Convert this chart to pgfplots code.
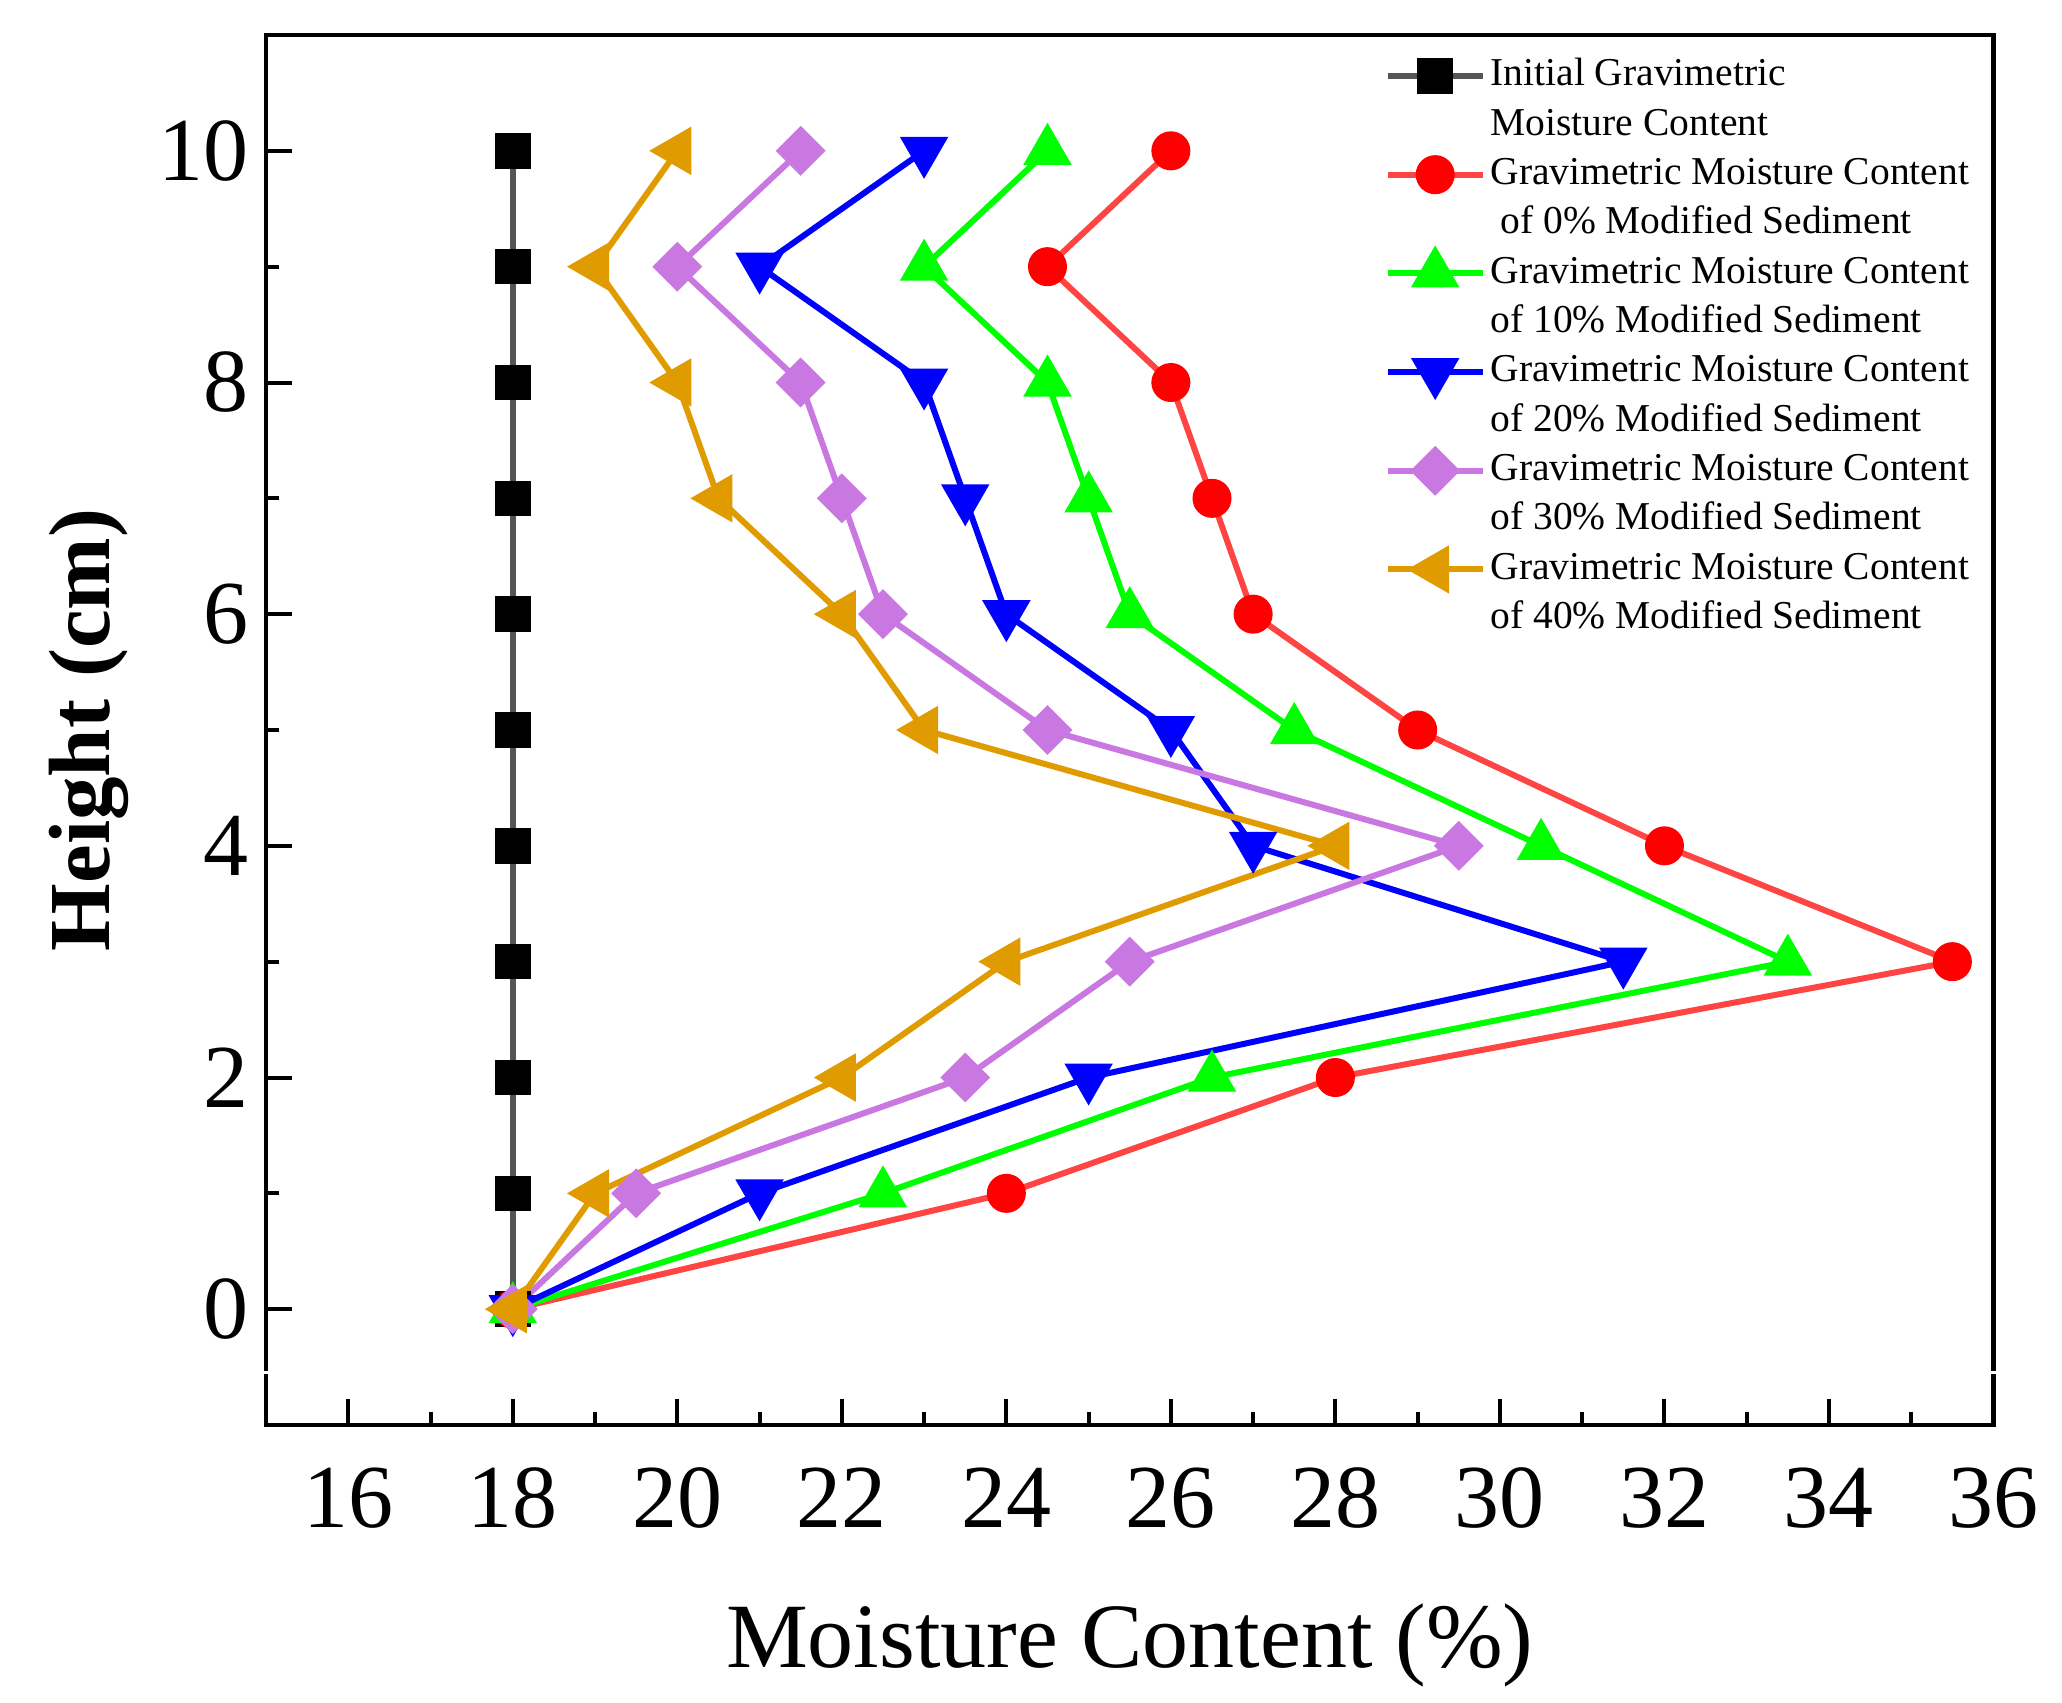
\documentclass[border=0pt]{standalone}
\usepackage{fontspec}
\setmainfont{Liberation Serif}
\usepackage{pgfplots}
\pgfplotsset{compat=1.18}
\definecolor{cred}{HTML}{FF0000}
\definecolor{credl}{HTML}{FF4444}
\definecolor{cgreen}{HTML}{00FF00}
\definecolor{cblue}{HTML}{0000FF}
\definecolor{cpurple}{HTML}{C878E0}
\definecolor{corange}{HTML}{E09B00}
\definecolor{cgrey}{HTML}{555555}
\newcommand{\second}[1]{\addlegendimage{empty legend}\addlegendentry{#1}}
\begin{document}
\begin{tikzpicture}
\begin{axis}[
  scale only axis, width=345.5pt, height=278pt,
  at={(0,0)}, anchor=south west,
  xmin=15, xmax=36, ymin=-1, ymax=11,
  xtick={16,18,...,36}, ytick={0,2,...,10},
  minor xtick={17,19,...,35}, minor ytick={1,3,...,9},
  tick pos=left, tick align=inside,
  major tick length=5.3pt, minor tick length=2.6pt,
  every tick/.style={black, line width=0.8pt},
  axis line style={line width=0.9pt},
  /pgf/number format/assume math mode=true,
  ticklabel style={font=\fontsize{18}{18}\selectfont},
  xticklabel style={yshift=-5pt},
  xlabel={Moisture Content (\%)},
  ylabel={\textbf{Height (cm)}},
  xlabel style={at={(axis description cs:0.5,-0.1748)}, anchor=base, font=\fontsize{18.4}{20}\selectfont},
  ylabel style={at={(axis description cs:-0.0908,0.5)}, anchor=base, rotate=0, font=\fontsize{17.4}{20}\selectfont},
  legend image code/.code={\draw[mark repeat=2,mark phase=2,#1] plot coordinates {(0pt,0pt) (9.5pt,0pt) (19pt,0pt)};},
  legend style={draw=none, fill=none, at={(axis description cs:0.647,0.989)}, anchor=north west,
    row sep=0pt, inner sep=0pt, column sep=1.0pt, font=\fontsize{7.9}{9.87}\selectfont,
    nodes={inner sep=0pt, text height=6.9pt, text depth=2.97pt}},
  legend cell align=left,
]
\addplot[color=cgrey, line width=1.1pt, mark=square*, mark size=3pt, mark options={fill=black, draw=black, solid}]
 coordinates {(18,0) (18,1) (18,2) (18,3) (18,4) (18,5) (18,6) (18,7) (18,8) (18,9) (18,10)};
\addlegendentry{Initial Gravimetric}
\second{Moisture Content}
\addplot[color=credl, line width=1.2pt, mark=*, mark size=3.3pt, mark options={fill=cred, draw=cred, solid}]
 coordinates {(18,0) (24,1) (28,2) (35.5,3) (32,4) (29,5) (27,6) (26.5,7) (26,8) (24.5,9) (26,10)};
\addlegendentry{Gravimetric Moisture Content}
\second{\hspace*{0.25em}of 0\% Modified Sediment}
\addplot[color=cgreen, line width=1.2pt, mark=triangle*, mark size=4.4pt, mark options={fill=cgreen, draw=cgreen, solid}]
 coordinates {(18,0) (22.5,1) (26.5,2) (33.5,3) (30.5,4) (27.5,5) (25.5,6) (25,7) (24.5,8) (23,9) (24.5,10)};
\addlegendentry{Gravimetric Moisture Content}
\second{of 10\% Modified Sediment}
\addplot[color=cblue, line width=1.2pt, mark=triangle*, mark size=4.4pt, mark options={fill=cblue, draw=cblue, solid, rotate=180}]
 coordinates {(18,0) (21,1) (25,2) (31.5,3) (27,4) (26,5) (24,6) (23.5,7) (23,8) (21,9) (23,10)};
\addlegendentry{Gravimetric Moisture Content}
\second{of 20\% Modified Sediment}
\addplot[color=cpurple, line width=1.2pt, mark=square*, mark size=2.93pt, mark options={fill=cpurple, draw=cpurple, solid, rotate=45}]
 coordinates {(18,0) (19.5,1) (23.5,2) (25.5,3) (29.5,4) (24.5,5) (22.5,6) (22,7) (21.5,8) (20,9) (21.5,10)};
\addlegendentry{Gravimetric Moisture Content}
\second{of 30\% Modified Sediment}
\addplot[color=corange, line width=1.2pt, mark=triangle*, mark size=4.4pt, mark options={fill=corange, draw=corange, solid, rotate=90}]
 coordinates {(18,0) (19,1) (22,2) (24,3) (28,4) (23,5) (22,6) (20.5,7) (20,8) (19,9) (20,10)};
\addlegendentry{Gravimetric Moisture Content}
\second{of 40\% Modified Sediment}
\end{axis}
\fill[white] (-2pt,10.2pt) rectangle (2pt,10.85pt);
\fill[white] (343.5pt,10.2pt) rectangle (347.5pt,10.85pt);
\pgfresetboundingbox
\path (-53.2pt,-55.4pt) rectangle (359.2pt,285pt);
\end{tikzpicture}
\end{document}
